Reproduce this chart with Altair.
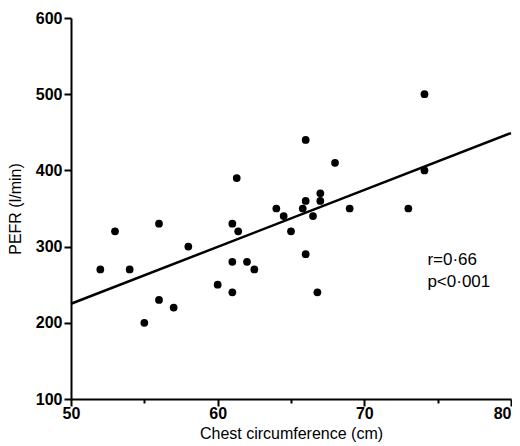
import altair as alt
import pandas as pd

# Scatter data
chest = [52, 53, 54, 55, 56, 56, 57, 58, 60, 61, 61, 61, 61.3, 61.4, 62, 62.5,
         64, 64.5, 65, 65.8, 66, 66, 66, 66.5, 66.8, 67, 67, 68, 69, 73, 74.1, 74.1]
pefr = [270, 320, 270, 200, 330, 230, 220, 300, 250, 330, 280, 240, 390, 320, 280, 270,
        350, 340, 320, 350, 440, 360, 290, 340, 240, 370, 360, 410, 350, 350, 400, 500]

# Regression line end points
fit_x = [50, 80]
fit_y = [225, 449]

# Annotation
ann_text = ["r=0·66", "p<0·001"]
ann_x = [74.3, 74.3]
ann_y = [282, 253]

x_ticks = [50, 55, 60, 65, 70, 75, 80]
y_ticks = [100, 150, 200, 250, 300, 350, 400, 450, 500, 550, 600]

pts = pd.DataFrame({"chest": chest, "pefr": pefr})
fit = pd.DataFrame({"chest": fit_x, "pefr": fit_y})
ann = pd.DataFrame({"chest": ann_x, "pefr": ann_y, "text": ann_text})

FONT = "Liberation Sans"

xscale = alt.Scale(domain=[50, 80], nice=False, zero=False)
yscale = alt.Scale(domain=[100, 600], nice=False, zero=False)

xaxis = alt.Axis(
    values=x_ticks,
    labelExpr="datum.value % 10 === 0 ? datum.label : ''",
    tickSize={"condition": {"test": "datum.value % 10 !== 0", "value": 4}, "value": 7},
    labelAlign={"condition": {"test": "datum.value === 80", "value": "right"}, "value": "center"},
    title="Chest circumference (cm)",
    grid=False,
    labelFont=FONT,
    labelFontSize=16,
    labelFontWeight="bold",
    labelPadding=-1,
    titleFont=FONT,
    titleFontSize=16,
    titleFontWeight="normal",
    titlePadding=4,
)
yaxis = alt.Axis(
    values=y_ticks,
    labelExpr="datum.value % 100 === 0 ? datum.label : ''",
    tickSize={"condition": {"test": "datum.value % 100 !== 0", "value": 4}, "value": 7},
    title="PEFR (l/min)",
    grid=False,
    labelFont=FONT,
    labelFontSize=16,
    labelFontWeight="bold",
    labelPadding=2,
    titleFont=FONT,
    titleFontSize=16,
    titleFontWeight="normal",
    titlePadding=12,
)

points = alt.Chart(pts).mark_circle(size=60, color="black", opacity=1).encode(
    x=alt.X("chest:Q", scale=xscale, axis=xaxis),
    y=alt.Y("pefr:Q", scale=yscale, axis=yaxis),
)

line = alt.Chart(fit).mark_line(color="black", strokeWidth=2.5).encode(
    x=alt.X("chest:Q", scale=xscale),
    y=alt.Y("pefr:Q", scale=yscale),
)

text = alt.Chart(ann).mark_text(
    align="left", baseline="middle", font=FONT, fontSize=17, color="black"
).encode(
    x=alt.X("chest:Q", scale=xscale),
    y=alt.Y("pefr:Q", scale=yscale),
    text="text:N",
)

chart = alt.layer(line, points, text).properties(
    width=440,
    height=381,
    autosize=alt.AutoSizeParams(type="none"),
    padding={"left": 63, "top": 10, "right": 1, "bottom": 47},
).configure_view(stroke=None).configure_axis(
    domainColor="black",
    domainWidth=2,
    tickColor="black",
    tickWidth=2,
    labelColor="black",
    titleColor="black",
)

chart.save("out.html", embed_options={"renderer": "svg", "actions": False})
